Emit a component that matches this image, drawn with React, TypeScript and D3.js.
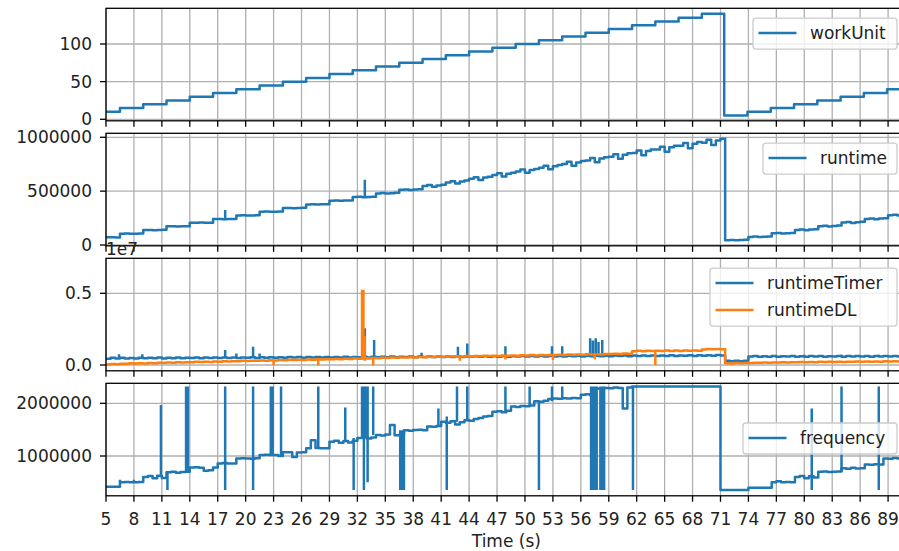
import React from "react";
import * as d3 from "d3";

// ---------------- data ----------------
const xTickValues = [5, 8, 11, 14, 17, 20, 23, 26, 29, 32, 35, 38, 41, 44, 47, 50, 53, 56, 59, 62, 65, 68, 71, 74, 77, 80, 83, 86, 89];

// workUnit: step points (time s, value)
const wuT = [5, 6.5, 9, 11.5, 14, 16.5, 19, 21.5, 24, 26.5, 29, 31.5, 34, 36.5, 39, 41.5, 44, 46.5, 49, 51.5, 54, 56.5, 59, 61.5, 64, 66.5, 69, 71.4, 73.9, 76.4, 78.9, 81.4, 83.9, 86.4, 88.9, 91];
const wuV = [10, 15, 20, 25, 30, 35, 40, 45, 50, 55, 60, 65, 70, 75, 80, 85, 90, 95, 100, 105, 110, 115, 120, 125, 130, 135, 140, 5, 10, 15, 20, 25, 30, 35, 40, 40];

// sampled every 0.5 s from t = 5 s (values in thousands)
const sampleStart = 5;
const sampleStep = 0.5;

const runtimeK = [
  71, 72, 70,
  105, 106, 104, 105, 107,
  139, 140, 138, 139, 141,
  173, 174, 172, 173, 175,
  207, 206, 208, 207, 206,
  241, 242, 240, 241, 242,
  275, 276, 274, 275, 276,
  309, 310, 308, 309, 311,
  343, 344, 342, 343, 345,
  377, 378, 376, 378, 379,
  411, 413, 410, 412, 414,
  445, 447, 444, 446, 448,
  479, 482, 477, 481, 484,
  513, 516, 511, 515, 518,
  547, 556, 541, 553, 560,
  581, 593, 572, 590, 598,
  615, 629, 604, 626, 634,
  649, 665, 637, 661, 670,
  683, 700, 670, 696, 706,
  717, 736, 703, 731, 742,
  751, 772, 736, 767, 779,
  785, 808, 768, 802, 815,
  819, 843, 800, 837, 852,
  853, 878, 833, 872, 887,
  887, 913, 866, 907, 922,
  921, 947, 898, 941, 956,
  950, 978, 928, 970, 986,
  45, 47, 44, 46, 48,
  75, 78, 74, 77, 79,
  108, 111, 106, 110, 112,
  140, 144, 138, 143, 146,
  175, 179, 172, 177, 181,
  208, 213, 205, 211, 215,
  242, 247, 239, 245, 249,
  277, 281, 274, 279, 282,
];
// [time, from, to] in thousands
const runtimeSpikes = [
  [17.8, 241, 325],
  [32.8, 445, 605],
];

const runtimeTimerK = [
  440, 500, 455, 510, 460, 495, 450, 505, 465, 500,
  470, 515, 460, 505, 475, 520, 465, 510, 480, 515,
  475, 525, 480, 515, 490, 530, 485, 520, 495, 530,
  500, 540, 495, 535, 505, 545, 500, 540, 510, 550,
  515, 555, 510, 550, 520, 560, 515, 555, 525, 565,
  530, 570, 525, 565, 535, 575, 530, 570, 540, 580,
  545, 585, 540, 580, 550, 590, 545, 585, 555, 595,
  560, 600, 555, 595, 565, 605, 560, 600, 570, 610,
  575, 615, 570, 610, 580, 620, 575, 615, 585, 625,
  590, 630, 585, 625, 595, 635, 590, 630, 600, 640,
  605, 645, 600, 640, 610, 650, 605, 645, 615, 655,
  620, 660, 615, 655, 625, 665, 620, 660, 630, 670,
  635, 675, 630, 670, 640, 680, 635, 675, 645, 685,
  650, 690, 660, 300, 270, 295, 265, 290, 590, 620,
  575, 615, 580, 620, 570, 610, 585, 625, 575, 615,
  580, 620, 585, 625, 575, 615, 590, 630, 580, 620,
  585, 625, 590, 630, 580, 620, 595, 635, 585, 625,
  590, 630, 600,
];
const runtimeTimerSpikes = [
  [6.4, 480, 750], [8.9, 480, 750], [17.8, 520, 1050], [19.0, 520, 800],
  [20.8, 530, 1280], [21.5, 530, 800], [32.8, 350, 2560], [33.8, 560, 1740],
  [38.9, 590, 850], [42.8, 600, 1280], [43.8, 600, 1500], [47.9, 620, 1300],
  [52.9, 640, 1300], [54.0, 640, 1300], [57.0, 650, 1860], [57.3, 650, 1700],
  [57.6, 650, 1860], [57.9, 650, 1600], [58.3, 650, 1750], [80.0, 600, 720],
  [84.0, 600, 720], [88.0, 600, 720],
];

const runtimeDLK = [
  40, 70, 60, 85, 95, 120, 105, 125, 110, 135,
  130, 160, 150, 170, 165, 190, 175, 200, 190, 220,
  205, 230, 215, 240, 230, 255, 240, 270, 260, 290,
  275, 300, 290, 320, 305, 330, 315, 345, 330, 360,
  345, 370, 355, 385, 370, 395, 380, 410, 395, 425,
  410, 440, 425, 455, 440, 470, 455, 485, 470, 500,
  485, 515, 500, 530, 515, 545, 530, 560, 545, 575,
  560, 590, 570, 600, 585, 610, 595, 620, 600, 630,
  610, 640, 620, 650, 630, 660, 640, 670, 650, 680,
  660, 690, 670, 700, 680, 705, 690, 715, 700, 725,
  710, 735, 720, 745, 730, 755, 740, 770, 760, 790,
  770, 800, 780, 960, 990, 965, 995, 970, 1000, 975,
  1005, 980, 1010, 985, 1015, 990, 1020, 995, 1080, 1110,
  1090, 1115, 1095, 120, 110, 135, 125, 145, 140, 160,
  150, 170, 160, 180, 170, 190, 180, 200, 190, 210,
  195, 215, 200, 220, 205, 225, 210, 230, 215, 235,
  220, 240, 225, 245, 230, 250, 235, 255, 240, 260,
  245, 265, 250,
];
const runtimeDLSpikes = [
  [32.5, 440, 5250], [32.65, 440, 5250], [32.8, 300, 2000],
  [23.0, 310, 0], [27.8, 385, -40], [33.7, 470, -20],
  [43.0, 610, 300], [47.9, 650, 380], [53.0, 700, 350], [57.5, 770, 400], [64.0, 985, 0],
];

const frequencyK = [
  417, 417, 417, 500, 505, 500, 500, 505, 600, 620,
  580, 625, 585, 690, 700, 680, 695, 700, 780, 785,
  775, 720, 730, 780, 860, 865, 860, 858, 955, 958,
  955, 950, 957, 1020, 1022, 1018, 1020, 1000, 1070, 1072,
  980, 1068, 1070, 1146, 1300, 1150, 1146, 1148, 1270, 1290,
  1250, 1285, 1255, 1290, 1340, 1355, 1330, 1350, 1400, 1390,
  1410, 1590, 1395, 1405, 1490, 1480, 1495, 1500, 1490, 1560,
  1555, 1570, 1650, 1630, 1660, 1600, 1640, 1680, 1670, 1700,
  1720, 1750, 1760, 1840, 1850, 1830, 1860, 1940, 1930, 1950,
  1945, 1960, 2040, 2030, 2050, 2080, 2090, 2085, 2095, 2090,
  2100, 2095, 2160, 2170, 2155, 2280, 2270, 2290, 2285, 2300,
  2290, 1900, 2300, 2320, 2320, 2320, 2320, 2320, 2320, 2320,
  2320, 2320, 2320, 2320, 2320, 2320, 2320, 2320, 2320, 2320,
  2320, 2320, 355, 355, 355, 355, 355, 355, 400, 400,
  400, 400, 400, 500, 520, 500, 505, 500, 600, 620,
  580, 615, 590, 700, 705, 695, 700, 705, 770, 760,
  775, 765, 770, 840, 835, 845, 840, 955, 950, 960,
  955, 960, 955,
];
const frequencySpikes = [
  [6.5, 500, 550], [8.0, 500, 550], [10.9, 600, 1970], [11.6, 355, 690],
  [13.6, 700, 2320], [13.8, 700, 2320], [17.8, 355, 2320], [20.8, 355, 2320],
  [22.7, 1020, 2320], [22.9, 1020, 2320], [23.8, 1020, 2320], [27.8, 1146, 2320],
  [30.7, 1270, 1920], [31.6, 355, 1340], [32.5, 1340, 2320], [32.7, 355, 2320],
  [32.9, 1340, 2320], [33.1, 500, 2320], [33.7, 1400, 2320], [36.6, 355, 1490],
  [36.8, 355, 1490], [37.0, 355, 1490], [40.7, 1560, 1900], [41.6, 355, 1750],
  [42.7, 1650, 2320], [43.8, 1700, 2320], [47.9, 1840, 2320], [50.5, 1940, 2320],
  [51.5, 355, 2040], [52.9, 2040, 2320], [54.0, 2090, 2320], [57.1, 355, 2320],
  [57.3, 355, 2320], [57.5, 355, 2320], [57.7, 355, 2320], [58.1, 355, 2320],
  [58.3, 355, 2320], [58.5, 355, 2320], [61.6, 355, 2320], [80.8, 355, 1900],
  [84.0, 700, 2320], [88.0, 355, 2320],
];

// ---------------- layout ----------------
const W = 899;
const H = 551;
const LEFT = 106;
const RIGHT = 906.7;
const PANEL_H = 112.5;
const TOPS = [8.3, 133.3, 258.3, 383.3];
const FONT = "'DejaVu Sans', 'Liberation Sans', sans-serif";
const FS = 17;
const BLUE = "#1f77b4";
const ORANGE = "#ff7f0e";
const LW = 2.5;

type Pt = [number, number];

function sampled(vals: number[], mult: number): Pt[] {
  return vals.map((v, i) => [sampleStart + i * sampleStep, v * mult] as Pt);
}

export default function App() {
  const x = d3.scaleLinear().domain([5, 91]).range([LEFT, RIGHT]);

  const panels = [
    {
      domain: [-2, 147.4],
      ticks: [0, 50, 100],
      fmt: (v: number) => String(v),
      series: [{ pts: wuT.map((t, i) => [t, wuV[i]] as Pt), spikes: [] as number[][], mult: 1, color: BLUE }],
      legend: { x: 753, w: 144, labels: ["workUnit"], colors: [BLUE] },
    },
    {
      domain: [-7400, 1037000],
      ticks: [0, 500000, 1000000],
      fmt: (v: number) => String(v),
      series: [{ pts: sampled(runtimeK, 1000), spikes: runtimeSpikes, mult: 1000, color: BLUE }],
      legend: { x: 763, w: 134, labels: ["runtime"], colors: [BLUE] },
    },
    {
      domain: [-404000, 7440000],
      ticks: [0, 5000000],
      fmt: (v: number) => (v / 1e7).toFixed(1),
      series: [
        { pts: sampled(runtimeTimerK, 1000), spikes: runtimeTimerSpikes, mult: 1000, color: BLUE },
        { pts: sampled(runtimeDLK, 1000), spikes: runtimeDLSpikes, mult: 1000, color: ORANGE },
      ],
      legend: { x: 710, w: 187, labels: ["runtimeTimer", "runtimeDL"], colors: [BLUE, ORANGE] },
      offset: "1e7",
    },
    {
      domain: [245000, 2379500],
      ticks: [1000000, 2000000],
      fmt: (v: number) => String(v),
      series: [{ pts: sampled(frequencyK, 1000), spikes: frequencySpikes, mult: 1000, color: BLUE }],
      legend: { x: 743, w: 154, labels: ["frequency"], colors: [BLUE], yOff: 39.7 },
    },
  ];

  return (
    <svg
      width={W}
      height={H}
      style={{ position: "absolute", left: 0, top: 0, background: "#fff", fontFamily: FONT }}
    >
      <rect x={0} y={0} width={W} height={H} fill="#fff" />
      {panels.map((p, pi) => {
        const top = TOPS[pi];
        const bottom = top + PANEL_H;
        const y = d3.scaleLinear().domain(p.domain).range([bottom, top]);
        const line = d3
          .line<Pt>()
          .x((d) => x(d[0]))
          .y((d) => y(d[1]))
          .curve(d3.curveStepAfter);
        const lg = p.legend as any;
        const lgTop = top + (lg.yOff ?? 9.8);
        const lgH = 31 + (lg.labels.length - 1) * 27;
        return (
          <g key={pi}>
            <defs>
              <clipPath id={`clip${pi}`}>
                <rect x={LEFT} y={top} width={RIGHT - LEFT} height={PANEL_H} />
              </clipPath>
            </defs>
            {/* grid */}
            {xTickValues.map((t) => (
              <line key={`gx${t}`} x1={x(t)} x2={x(t)} y1={top} y2={bottom} stroke="#b0b0b0" strokeWidth={1.3} />
            ))}
            {p.ticks.map((v) => (
              <line key={`gy${v}`} x1={LEFT} x2={RIGHT} y1={y(v)} y2={y(v)} stroke="#b0b0b0" strokeWidth={1.3} />
            ))}
            {/* data */}
            <g clipPath={`url(#clip${pi})`}>
              {p.series.map((s, si) => (
                <g key={si}>
                  <path d={line(s.pts) || ""} fill="none" stroke={s.color} strokeWidth={LW} strokeLinejoin="round" />
                  <path
                    d={s.spikes
                      .map((sp) => `M${x(sp[0])},${y(sp[1] * s.mult)}V${y(sp[2] * s.mult)}`)
                      .join("")}
                    fill="none"
                    stroke={s.color}
                    strokeWidth={LW}
                  />
                </g>
              ))}
            </g>
            {/* spines */}
            <rect x={LEFT} y={top} width={RIGHT - LEFT} height={PANEL_H} fill="none" stroke="#000" strokeWidth={1.3} />
            {/* x ticks */}
            {xTickValues.map((t) => (
              <line key={`tx${t}`} x1={x(t)} x2={x(t)} y1={bottom} y2={bottom + 6} stroke="#000" strokeWidth={1.3} />
            ))}
            {pi === 3 &&
              xTickValues.map((t) => (
                <text key={`lx${t}`} x={x(t)} y={524.5} fontSize={FS} textAnchor="middle" fill="#222">
                  {t}
                </text>
              ))}
            {/* y ticks */}
            {p.ticks.map((v) => (
              <g key={`ty${v}`}>
                <line x1={LEFT - 6} x2={LEFT} y1={y(v)} y2={y(v)} stroke="#000" strokeWidth={1.3} />
                <text x={92} y={y(v)} dy="0.36em" fontSize={FS} textAnchor="end" fill="#222">
                  {p.fmt(v)}
                </text>
              </g>
            ))}
            {(p as any).offset && (
              <text x={LEFT} y={top - 3.5} fontSize={FS} fill="#222">
                {(p as any).offset}
              </text>
            )}
            {/* legend */}
            <g>
              <rect
                x={lg.x}
                y={lgTop}
                width={lg.w}
                height={lgH}
                rx={3}
                ry={3}
                fill="#fff"
                fillOpacity={0.8}
                stroke="#cccccc"
                strokeWidth={1.3}
              />
              {lg.labels.map((lab: string, li: number) => {
                const ly = lgTop + 15 + li * 27;
                return (
                  <g key={lab}>
                    <line x1={lg.x + 5.5} x2={lg.x + 43.5} y1={ly} y2={ly} stroke={lg.colors[li]} strokeWidth={LW} />
                    <text x={lg.x + 57} y={ly} dy="0.36em" fontSize={FS} fill="#222">
                      {lab}
                    </text>
                  </g>
                );
              })}
            </g>
          </g>
        );
      })}
      <text x={(LEFT + RIGHT) / 2} y={547} fontSize={FS} textAnchor="middle" fill="#222">
        Time (s)
      </text>
    </svg>
  );
}
